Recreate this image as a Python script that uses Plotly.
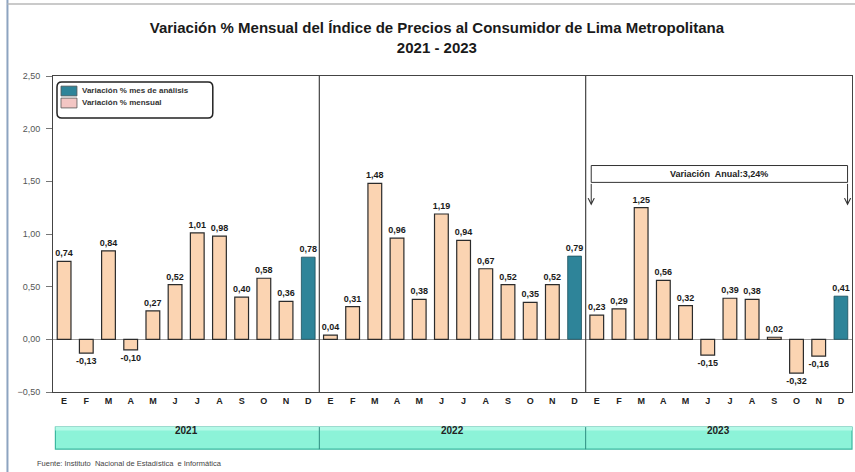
import plotly.graph_objects as go

months = ["E", "F", "M", "A", "M", "J", "J", "A", "S", "O", "N", "D"]
years = ["2021", "2022", "2023"]
v2021 = [0.74, -0.13, 0.84, -0.10, 0.27, 0.52, 1.01, 0.98, 0.40, 0.58, 0.36, 0.78]
v2022 = [0.04, 0.31, 1.48, 0.96, 0.38, 1.19, 0.94, 0.67, 0.52, 0.35, 0.52, 0.79]
v2023 = [0.23, 0.29, 1.25, 0.56, 0.32, -0.15, 0.39, 0.38, 0.02, -0.32, -0.16, 0.41]
y_ticks = [-0.5, 0.0, 0.5, 1.0, 1.5, 2.0, 2.5]
annual_text = "Variación  Anual:3,24%"
legend_labels = ["Variación % mes de análisis", "Variación % mensual"]

values = v2021 + v2022 + v2023
xs = list(range(len(values)))
ticktext = ["<b>%s</b>" % m for m in months * len(years)]

dec_idx = [i for i in xs if i % 12 == 11]
oth_idx = [i for i in xs if i % 12 != 11]

PEACH = "#FBD4B2"
TEAL = "#2E8499"
PINK = "#F3C6C4"
FONT = "Liberation Sans Narrow, Arial Narrow, Liberation Sans, Arial, sans-serif"
FONT_W = "Liberation Sans, Arial, sans-serif"

fig = go.Figure()
fig.add_trace(go.Bar(
    x=dec_idx, y=[values[i] for i in dec_idx], name=legend_labels[0],
    marker=dict(color=TEAL, line=dict(color="#1d4f5c", width=0.8)), width=0.62,
    texttemplate="<b>%{y:.2f}</b>", textposition="outside", constraintext="none",
    textfont=dict(size=9, color="#1a1a1a", family=FONT_W), cliponaxis=False,
))
fig.add_trace(go.Bar(
    x=oth_idx, y=[values[i] for i in oth_idx], name=legend_labels[1],
    marker=dict(color=PEACH, line=dict(color="#2b2b2b", width=1.2)), width=0.62,
    texttemplate="<b>%{y:.2f}</b>", textposition="outside", constraintext="none",
    textfont=dict(size=9, color="#1a1a1a", family=FONT_W), cliponaxis=False,
))

shapes = []
# year separators inside plot
for k in range(1, len(years)):
    shapes.append(dict(type="line", xref="x", yref="y", x0=12 * k - 0.5, x1=12 * k - 0.5,
                       y0=-0.5, y1=2.5, line=dict(color="#444", width=1.2)))
# year band
shapes.append(dict(type="rect", xref="paper", yref="paper", x0=0.003, x1=1.0, y0=-0.181, y1=-0.111,
                   fillcolor="#8CF3D8", line=dict(color="#3CB8A0", width=1.2), layer="below"))
shapes.append(dict(type="rect", xref="paper", yref="paper", x0=0.003, x1=1.0, y0=-0.122, y1=-0.111,
                   fillcolor="#B4FAE8", line=dict(width=0), layer="below"))
for k in range(1, len(years)):
    shapes.append(dict(type="line", xref="x", yref="paper", x0=12 * k - 0.5, x1=12 * k - 0.5,
                       y0=-0.181, y1=-0.111, line=dict(color="#2E8C80", width=1)))
# outer frame
shapes.append(dict(type="line", xref="paper", yref="paper", x0=-0.057, x1=-0.057, y0=-0.3, y1=1.25,
                   line=dict(color="#8DA4C0", width=2)))
shapes.append(dict(type="line", xref="paper", yref="paper", x0=-0.057, x1=1.01, y0=1.228, y1=1.228,
                   line=dict(color="#B8B8B8", width=1.5)))
# annual variation box
shapes.append(dict(type="rect", xref="x", yref="y", x0=23.75, x1=35.3, y0=1.49, y1=1.65,
                   fillcolor="white", line=dict(color="#333", width=1)))
# manual legend: rounded box
lx0, lx1, ly0, ly1, rx, ry = 0.005, 0.2, 0.867, 0.981, 0.006, 0.016
shapes.append(dict(type="path", xref="paper", yref="paper",
                   path=(f"M {lx0+rx},{ly0} L {lx1-rx},{ly0} Q {lx1},{ly0} {lx1},{ly0+ry} "
                         f"L {lx1},{ly1-ry} Q {lx1},{ly1} {lx1-rx},{ly1} L {lx0+rx},{ly1} "
                         f"Q {lx0},{ly1} {lx0},{ly1-ry} L {lx0},{ly0+ry} Q {lx0},{ly0} {lx0+rx},{ly0} Z"),
                   fillcolor="white", line=dict(color="#222", width=1.5)))
for (c, yy0, yy1) in ((TEAL, 0.937, 0.968), (PINK, 0.899, 0.930)):
    shapes.append(dict(type="rect", xref="paper", yref="paper", x0=0.010, x1=0.030, y0=yy0, y1=yy1,
                       fillcolor=c, line=dict(color="#555", width=0.8)))

annotations = []
for lbl, yy in zip(legend_labels, (0.953, 0.915)):
    annotations.append(dict(x=0.034, y=yy, xref="paper", yref="paper", xanchor="left", yanchor="middle",
                            text="<b>" + lbl + "</b>", showarrow=False,
                            font=dict(size=8, color="#333", family=FONT_W)))
for k, yr in enumerate(years):
    annotations.append(dict(x=12 * k + 5.5, y=-0.146, xref="x", yref="paper", text="<b>%s</b>" % yr,
                            showarrow=False, font=dict(size=10, color="#222", family=FONT)))
annotations.append(dict(x=29.5, y=1.57, xref="x", yref="y", text="<b>" + annual_text + "</b>",
                        showarrow=False, font=dict(size=9, color="#222", family=FONT)))
for xa in (23.75, 35.3):
    annotations.append(dict(x=xa, y=1.27, xref="x", yref="y", ax=xa, ay=1.49, axref="x", ayref="y",
                            text="", showarrow=True, arrowhead=5, arrowsize=1.2, arrowwidth=1,
                            arrowcolor="#333"))
annotations.append(dict(x=0.0, y=-0.205, xref="paper", yref="paper", xanchor="left", yanchor="top",
                        xshift=-18,
                        text="Fuente: Instituto  Nacional de Estadística  e Informática",
                        showarrow=False, font=dict(size=7.5, color="#444", family=FONT)))

fig.update_layout(
    width=855, height=472,
    margin=dict(l=53, r=3, t=76, b=80),
    paper_bgcolor="white", plot_bgcolor="white",
    separators=",.",
    barmode="overlay",
    title=dict(text="<b>Variación % Mensual del Índice de Precios al Consumidor de Lima Metropolitana<br>2021 - 2023</b>",
               x=0.511, xanchor="center", y=0.93, yanchor="top",
               font=dict(size=15, color="#1a1a1a", family=FONT)),
    font=dict(family=FONT),
    showlegend=False,
    shapes=shapes,
    annotations=annotations,
)
fig.update_xaxes(range=[-0.5, 35.5], tickmode="array", tickvals=xs, ticktext=ticktext,
                 tickfont=dict(size=9, color="#222", family=FONT_W), showline=True, mirror=True,
                 linecolor="#444", linewidth=1, showgrid=False, ticks="", zeroline=False)
fig.update_yaxes(range=[-0.5, 2.5], tickmode="array", tickvals=y_ticks, tickformat=".2f",
                 tickfont=dict(size=9, color="#555", family=FONT_W), showline=True, mirror=True,
                 linecolor="#444", linewidth=1, showgrid=False, ticks="outside", ticklen=6,
                 tickcolor="#777", ticklabelstandoff=4,
                 zeroline=True, zerolinecolor="#999", zerolinewidth=1)

fig.write_html("out.html", config={"displayModeBar": False},
               post_script="document.body.style.margin='0';document.body.style.padding='0';")
